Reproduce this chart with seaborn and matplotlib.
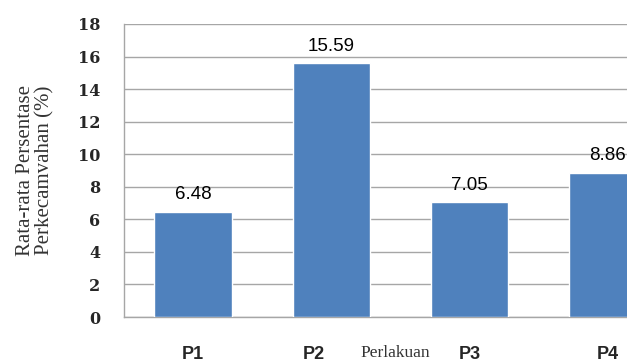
import matplotlib
matplotlib.use("Agg")
import matplotlib.pyplot as plt
import matplotlib.transforms as mtransforms
import seaborn as sns
import pandas as pd

# --- data ---
treatments = ["P1", "P2", "P3", "P4"]
germination = [6.48, 15.59, 7.05, 8.86]
y_ticks = list(range(0, 19, 2))

BAR_COLOR = "#4F81BD"
GRID_COLOR = "#A6A6A6"

sns.set_style("white")

df = pd.DataFrame({"Perlakuan": treatments, "Persentase": germination})

fig = plt.figure(figsize=(6.27, 3.63), dpi=100)
# plot area runs past the right edge, like the cropped original
ax = fig.add_axes([124 / 627, 1 - 317 / 363, (677 - 124) / 627, (317 - 24) / 363])

sns.barplot(data=df, x="Perlakuan", y="Persentase", color=BAR_COLOR,
            saturation=1, width=0.56, ax=ax, zorder=3)

ax.set_ylim(0, 18)
ax.set_xlim(-0.5, len(treatments) - 0.5)
ax.set_yticks(y_ticks)
ax.yaxis.grid(True, color=GRID_COLOR, linewidth=1.0, zorder=0)
ax.set_axisbelow(True)

for side in ["top", "right"]:
    ax.spines[side].set_visible(False)
for side in ["left", "bottom"]:
    ax.spines[side].set_color(GRID_COLOR)
    ax.spines[side].set_linewidth(1.0)

ax.tick_params(axis="y", length=0, pad=17)
ax.tick_params(axis="x", length=0, pad=21)
for lab in ax.get_yticklabels():
    lab.set_fontfamily("DejaVu Serif")
    lab.set_fontweight("bold")
    lab.set_fontsize(11.5)
for lab in ax.get_xticklabels():
    lab.set_fontfamily("Liberation Sans")
    lab.set_fontweight("bold")
    lab.set_fontsize(13)

# P2 label sits a bit to the left in the original
p2 = ax.get_xticklabels()[1]
p2.set_transform(p2.get_transform() + mtransforms.ScaledTranslation(-18 / 100, 0, fig.dpi_scale_trans))

# value labels above bars
for i, v in enumerate(germination):
    ax.annotate(f"{v:.2f}", (i, v), xytext=(0, 6), textcoords="offset points",
                ha="center", va="bottom", fontsize=13.5, family="Liberation Sans",
                color="black")

ax.set_ylabel("Rata-rata Persentase\nPerkecamvahan (%)", family="Liberation Serif",
              fontsize=15, linespacing=1.05, color="#333333")
ax.yaxis.set_label_coords(-0.125, 0.5)
ax.set_xlabel("Perlakuan", family="Liberation Serif", fontsize=12.5, color="#333333")
ax.xaxis.set_label_coords((395 - 124) / (677 - 124), (317 - 353) / 293)
ax.xaxis.label.set_verticalalignment("center")

fig.savefig("out.png", dpi=100)
